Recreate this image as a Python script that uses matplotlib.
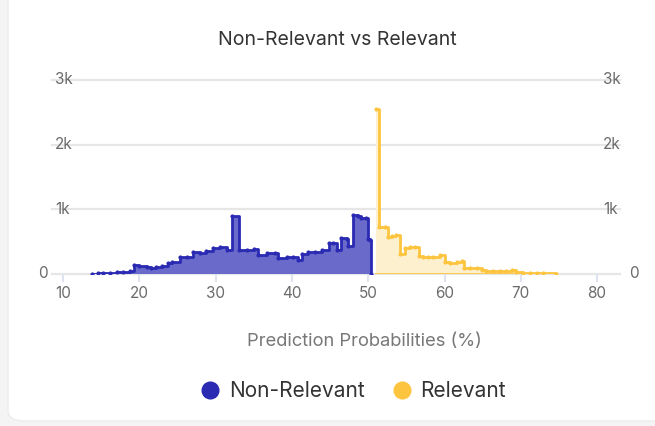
import numpy as np
import matplotlib.pyplot as plt
from matplotlib.patches import FancyBboxPatch
from matplotlib.lines import Line2D

plt.rcParams['font.family'] = ['Inter', 'DejaVu Sans']

# Non-Relevant: prediction probability (%) and count
nonrel_x = [13.8, 14.6, 15.2, 16.2, 17.1, 17.9, 18.8, 19.3, 20.0, 21.0, 21.6, 22.2,
            23.0, 23.7, 24.3, 25.3, 26.2, 27.1, 28.0, 28.8, 29.7, 30.6, 31.5, 32.1,
            33.1, 34.1, 35.0, 35.6, 36.7, 37.8, 38.2, 39.3, 40.2, 40.8, 41.3, 42.1,
            43.0, 43.9, 44.8, 45.4, 45.9, 46.5, 47.2, 47.4, 48.0, 48.7, 49.1, 49.7,
            50.0, 50.3, 50.4]
nonrel_y = [0, 15, 10, 15, 30, 30, 40, 145, 125, 115, 100, 105,
            125, 165, 190, 258, 268, 345, 320, 360, 397, 412, 371, 890,
            371, 371, 386, 294, 330, 330, 243, 268, 258, 216, 304, 345,
            345, 371, 475, 475, 371, 552, 536, 433, 912, 900, 861, 861,
            536, 526, 0]

# Relevant: prediction probability (%) and count
rel_x = [51.0, 51.4, 52.2, 52.6, 53.1, 53.7, 54.2, 54.8, 55.5, 56.1, 56.6, 57.2,
         57.9, 58.5, 59.4, 60.1, 60.7, 61.6, 62.3, 62.5, 63.3, 64.2, 64.9, 65.5,
         66.4, 67.3, 68.1, 68.8, 69.4, 70.3, 71.2, 72.1, 72.9, 74.6]
rel_y = [2546, 731, 722, 577, 587, 603, 309, 397, 412, 422, 278, 268,
         258, 268, 289, 190, 175, 186, 201, 88, 98, 88, 62, 46,
         46, 46, 51, 57, 31, 20, 15, 10, 10, 0]

x_ticks = [10, 20, 30, 40, 50, 60, 70, 80]
y_ticks = [0, 1000, 2000, 3000]
y_labels = ['0', '1k', '2k', '3k']

blue, blue_fill = '#2a2ab3', '#6a6acb'
yellow, yellow_fill = '#fdc53f', '#fdf0cf'

fig = plt.figure(figsize=(6.55, 4.26), dpi=100, facecolor='#f4f4f4')
card = FancyBboxPatch((8 / 655, 5 / 426), 680 / 655, 440 / 426,
                      boxstyle='round,pad=0,rounding_size=0.025',
                      transform=fig.transFigure, facecolor='white',
                      edgecolor='#ececec', lw=1, zorder=-10)
fig.patches.append(card)

ax = fig.add_axes([52 / 655, (426 - 274) / 426, 568 / 655, 194 / 426])
ax.set_facecolor('none')
ax.set_xlim(8.56, 83.0)
ax.set_ylim(0, 3000)
for s in ax.spines.values():
    s.set_visible(False)

for yv in y_ticks:
    ax.axhline(yv, color='#e6e6e6', lw=1.6, zorder=0, clip_on=False)

# series
ax.fill_between(nonrel_x, nonrel_y, step='post', color=blue_fill, lw=0, zorder=2)
ax.plot(nonrel_x, nonrel_y, drawstyle='steps-post', color=blue, lw=2.0,
        marker='o', ms=2.0, zorder=3)
ax.fill_between(rel_x, rel_y, step='post', color=yellow_fill, lw=0, zorder=2)
ax.plot(rel_x, rel_y, drawstyle='steps-post', color=yellow, lw=2.0,
        marker='o', ms=2.0, zorder=3)
ax.plot([rel_x[0], rel_x[-1]], [0, 0], color=yellow, lw=2.0, zorder=3)

ax.set_xticks(x_ticks)
ax.set_xticklabels([str(v) for v in x_ticks])
ax.tick_params(axis='x', length=6, width=1.5, color='#dde3ef', labelsize=11,
               labelcolor='#6b6b6b', pad=3)
ax.set_yticks([])

# y labels on both sides
for yv, lab in zip(y_ticks, y_labels):
    if yv == 0:
        ax.text(-0.007, yv, lab, transform=ax.get_yaxis_transform(), ha='right',
                va='center', fontsize=11, color='#6b6b6b')
        ax.text(1.016, yv, lab, transform=ax.get_yaxis_transform(), ha='left',
                va='center', fontsize=11, color='#6b6b6b')
    else:
        ax.text(0.005, yv, lab, transform=ax.get_yaxis_transform(), ha='left',
                va='center', fontsize=11, color='#6b6b6b')
        ax.text(0.970, yv, lab, transform=ax.get_yaxis_transform(), ha='left',
                va='center', fontsize=11, color='#6b6b6b')

fig.text(364 / 655, 1 - 341 / 426, 'Prediction Probabilities (%)', ha='center',
         va='center', fontsize=13.2, color='#777777')
fig.text(337 / 655, 1 - 40 / 426, 'Non-Relevant vs Relevant', ha='center', va='center',
         fontsize=14, color='#333333')

handles = [Line2D([], [], ls='none', marker='o', ms=12, color='#2a2ab3'),
           Line2D([], [], ls='none', marker='o', ms=12, color='#fdc53f')]
fig.legend(handles, ['Non-Relevant', 'Relevant'], loc='center',
           bbox_to_anchor=(352 / 655, 1 - 391 / 426), ncol=2, frameon=False,
           fontsize=15, labelcolor='#333333', handletextpad=0.3, columnspacing=1.17,
           handlelength=1.2)

fig.savefig('out.png', dpi=100, facecolor=fig.get_facecolor())
